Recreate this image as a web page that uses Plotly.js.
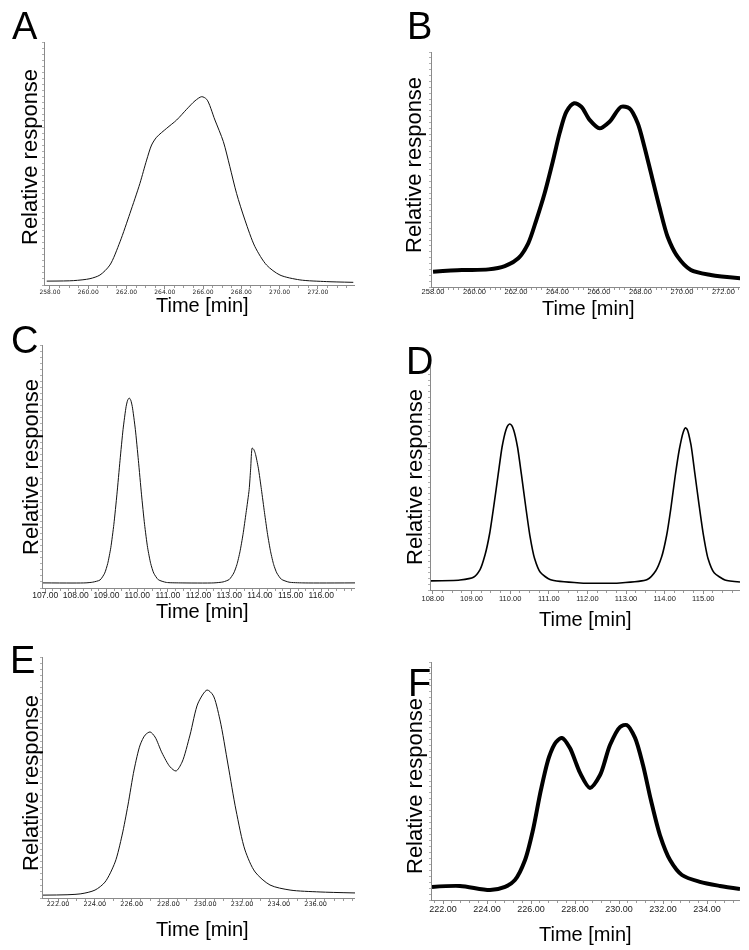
<!DOCTYPE html>
<html>
<head>
<meta charset="utf-8">
<script src="https://cdn.plot.ly/plotly-3.0.1.min.js"></script>
<style>html,body{margin:0;padding:0;background:#fff;}#chart{width:749px;height:950px;will-change:transform;}</style>
</head>
<body>
<div id="chart"></div>
<script>
// ---- Data ----
const timeA = [257.83,259.22,260.09,260.61,261.13,261.66,262.18,262.70,263.05,263.31,263.57,264.10,264.62,265.14,265.58,265.93,266.19,266.62,267.06,267.40,267.75,268.19,268.71,269.32,270.02,271.06,272.46,273.85];
const respA = [1.6,1.8,2.6,4.1,8.2,17.8,29.5,41.8,51.4,57.6,60.8,64.5,67.9,72.3,75.8,77.5,76.4,67.9,59.0,48.7,37.7,26.7,15.8,8.2,4.1,2.1,1.4,1.1];

const timeB = [258.00,259.39,260.67,261.46,262.11,262.59,262.98,263.38,263.79,264.10,264.43,264.80,265.15,265.55,266.03,266.51,267.07,267.47,267.87,268.19,268.51,268.91,269.31,269.79,270.43,271.39,272.83];
const respB = [6.5,7.2,7.5,8.9,12.2,18.6,28.5,39.9,54.0,65.4,74.6,78.2,76.7,71.1,67.5,70.3,76.7,76.0,69.7,59.7,48.4,34.2,21.4,12.9,7.2,5.1,3.7];

const timeC = [106.93,108.30,108.55,108.79,108.94,109.04,109.14,109.24,109.34,109.44,109.54,109.64,109.69,109.74,109.79,109.84,109.94,110.04,110.14,110.24,110.34,110.44,110.54,110.69,110.95,111.40,112.50,112.80,113.00,113.15,113.25,113.35,113.45,113.55,113.65,113.70,113.75,113.80,113.85,113.95,114.05,114.15,114.25,114.35,114.45,114.55,114.70,114.95,115.40,117.10];
const respC = [2.1,2.1,2.4,3.3,6.1,10.1,16.6,26.2,38.6,52.4,65.3,74.7,77.3,78.2,77.3,74.7,65.3,52.4,38.6,26.2,16.6,10.1,6.1,3.4,2.3,2.1,2.1,2.5,3.5,6.2,9.6,14.9,22.1,31.0,40.5,49.3,57.6,57.0,55.4,49.3,40.5,31.0,22.1,14.9,9.6,6.2,3.6,2.4,2.1,2.1];

const timeD = [107.95,108.70,109.05,109.22,109.35,109.47,109.58,109.69,109.79,109.89,109.94,109.99,110.04,110.09,110.19,110.29,110.40,110.51,110.63,110.78,111.03,111.81,112.84,113.55,113.77,113.92,114.05,114.16,114.27,114.38,114.48,114.53,114.58,114.68,114.78,114.89,115.00,115.12,115.28,115.56,115.95];
const respD = [4.0,4.4,5.6,9.0,15.5,25.0,37.5,51.0,63.0,70.5,72.5,73.1,72.5,70.5,63.0,51.0,37.0,24.0,14.0,7.8,4.6,3.1,3.1,4.6,8.5,14.5,24.0,36.0,50.0,62.0,69.5,71.4,70.8,64.0,51.5,37.5,24.5,14.0,7.6,4.4,3.5];

const timeE = [221.18,223.20,224.01,224.55,225.10,225.48,225.80,226.13,226.46,226.73,227.00,227.27,227.65,228.09,228.41,228.74,229.17,229.61,230.10,230.42,230.80,231.24,231.67,232.16,232.71,233.52,234.61,236.24,238.14];
const respE = [1.2,1.7,3.3,6.6,14.9,26.1,38.6,53.1,63.5,67.6,68.9,66.8,60.2,54.4,52.7,56.4,67.6,80.9,86.3,84.2,73.9,55.2,36.5,19.9,10.8,5.4,3.3,2.5,2.1];

const timeF = [221.50,222.77,224.14,224.82,225.27,225.73,226.09,226.45,226.82,227.14,227.41,227.77,228.23,228.68,229.14,229.59,230.05,230.36,230.73,231.09,231.45,231.86,232.32,232.86,233.68,234.59,235.50];
const respF = [5.5,5.9,4.2,5.5,8.4,16.8,29.4,46.2,60.1,66.4,68.1,63.9,53.4,47.1,52.5,65.1,72.7,73.5,68.1,56.7,42.0,27.3,16.8,10.5,7.6,5.9,4.6];

// tick label values
const ticksA = [258,260,262,264,266,268,270,272];
const ticksB = [258,260,262,264,266,268,270,272];
const ticksC = [107,108,109,110,111,112,113,114,115,116];
const ticksD = [108,109,110,111,112,113,114,115];
const ticksE = [222,224,226,228,230,232,234,236];
const ticksF = [222,224,226,228,230,232,234];

const panelLetters = ['A','B','C','D','E','F'];
const yTitle = 'Relative response';
const xTitle = 'Time [min]';

// ---- Layout helpers ----
const W = 749, H = 950;
const px = x => x / W;
const py = y => 1 - y / H;

function xAxis(dom, range, tickvals, fontFamily, fontSize, minorDt, standoff) {
  return {
    domain: [px(dom[0]), px(dom[1])], range: range,
    showline: true, linecolor: '#8a8a8a', linewidth: 1,
    ticks: 'outside', ticklen: 3, tickcolor: '#8a8a8a', tickwidth: 1,
    tickmode: 'array', tickvals: tickvals, tickformat: '.2f',
    ticklabelstandoff: standoff,
    tickfont: {family: fontFamily, size: fontSize, color: '#222'},
    minor: {dtick: minorDt, tick0: tickvals[0], ticks: 'outside', ticklen: 2, tickcolor: '#9a9a9a', showgrid: false},
    showgrid: false, zeroline: false, fixedrange: true
  };
}
function yAxis(dom) {
  return {
    domain: [py(dom[1]), py(dom[0])], range: [0, 100],
    showline: true, linecolor: '#8a8a8a', linewidth: 1,
    ticks: 'outside', ticklen: 2, tickcolor: '#b0b0b0', dtick: 2.5,
    showticklabels: false, showgrid: false, zeroline: false, fixedrange: true
  };
}

const traces = [
  {x: timeA, y: respA, xaxis: 'x', yaxis: 'y', type: 'scatter', mode: 'lines', line: {color: '#111', width: 1, shape: 'spline', smoothing: 0.8}},
  {x: timeB, y: respB, xaxis: 'x2', yaxis: 'y2', type: 'scatter', mode: 'lines', line: {color: '#000', width: 4, shape: 'spline', smoothing: 0.8}},
  {x: timeC, y: respC, xaxis: 'x3', yaxis: 'y3', type: 'scatter', mode: 'lines', line: {color: '#111', width: 1, shape: 'spline', smoothing: 0.6}},
  {x: timeD, y: respD, xaxis: 'x4', yaxis: 'y4', type: 'scatter', mode: 'lines', line: {color: '#000', width: 1.6, shape: 'spline', smoothing: 0.6}},
  {x: timeE, y: respE, xaxis: 'x5', yaxis: 'y5', type: 'scatter', mode: 'lines', line: {color: '#111', width: 1, shape: 'spline', smoothing: 0.8}},
  {x: timeF, y: respF, xaxis: 'x6', yaxis: 'y6', type: 'scatter', mode: 'lines', line: {color: '#000', width: 4, shape: 'spline', smoothing: 0.8}}
];

const layout = {
  width: W, height: H, margin: {l: 0, r: 0, t: 0, b: 0},
  paper_bgcolor: '#fff', plot_bgcolor: '#fff', showlegend: false,
  font: {family: 'Liberation Sans, Arial, sans-serif', color: '#000'},
  xaxis:  Object.assign(xAxis([45, 355], [257.74, 273.94], ticksA, 'DejaVu Sans', 6, 0.5, -2), {anchor: 'y'}),
  yaxis:  Object.assign(yAxis([42, 285]), {anchor: 'x'}),
  xaxis2: Object.assign(xAxis([432, 740], [257.95, 272.8], ticksB, 'Liberation Sans', 7.5, 0.25, -6), {anchor: 'y2'}),
  yaxis2: Object.assign(yAxis([52, 287]), {anchor: 'x2'}),
  xaxis3: Object.assign(xAxis([43, 355], [106.93, 117.1], ticksC, 'Liberation Sans', 8.5, 0.25, -4), {anchor: 'y3'}),
  yaxis3: Object.assign(yAxis([345, 588]), {anchor: 'x3'}),
  xaxis4: Object.assign(xAxis([431, 740], [107.95, 115.95], ticksD, 'Liberation Sans', 7.5, 0.25, -2), {anchor: 'y4'}),
  yaxis4: Object.assign(yAxis([363, 590]), {anchor: 'x4'}),
  xaxis5: Object.assign(xAxis([43, 355], [221.18, 238.14], ticksE, 'DejaVu Sans', 6.5, 0.5, -4), {anchor: 'y5'}),
  yaxis5: Object.assign(yAxis([657, 898]), {anchor: 'x5'}),
  xaxis6: Object.assign(xAxis([432, 740], [221.5, 235.5], ticksF, 'Liberation Sans', 9, 0.4, -3), {anchor: 'y6'}),
  yaxis6: Object.assign(yAxis([662, 900]), {anchor: 'x6'}),
  annotations: []
};

const letterPos = [[25,26],[420,26],[24,340],[420,361],[22,660],[419,683]];
const yTitlePos = [[30,157],[414,165],[30,467],[414,477],[30,783],[414,786]];
const xTitlePos = [[203,305],[588,308],[203,611],[585,619],[203,929],[585,934]];

panelLetters.forEach((L, i) => {
  layout.annotations.push({text: L, xref: 'paper', yref: 'paper', x: px(letterPos[i][0]), y: py(letterPos[i][1]),
    xanchor: 'center', yanchor: 'middle', showarrow: false, font: {family: 'Liberation Sans', size: 38, color: '#000'}});
  layout.annotations.push({text: yTitle, xref: 'paper', yref: 'paper', x: px(yTitlePos[i][0]), y: py(yTitlePos[i][1]),
    xanchor: 'center', yanchor: 'middle', textangle: -90, showarrow: false, font: {family: 'Liberation Sans', size: 22, color: '#000'}});
  layout.annotations.push({text: xTitle, xref: 'paper', yref: 'paper', x: px(xTitlePos[i][0]), y: py(xTitlePos[i][1]),
    xanchor: 'center', yanchor: 'middle', showarrow: false, font: {family: 'Liberation Sans', size: 20, color: '#000'}});
});

Plotly.newPlot('chart', traces, layout, {staticPlot: true, displayModeBar: false});
</script>
</body>
</html>
